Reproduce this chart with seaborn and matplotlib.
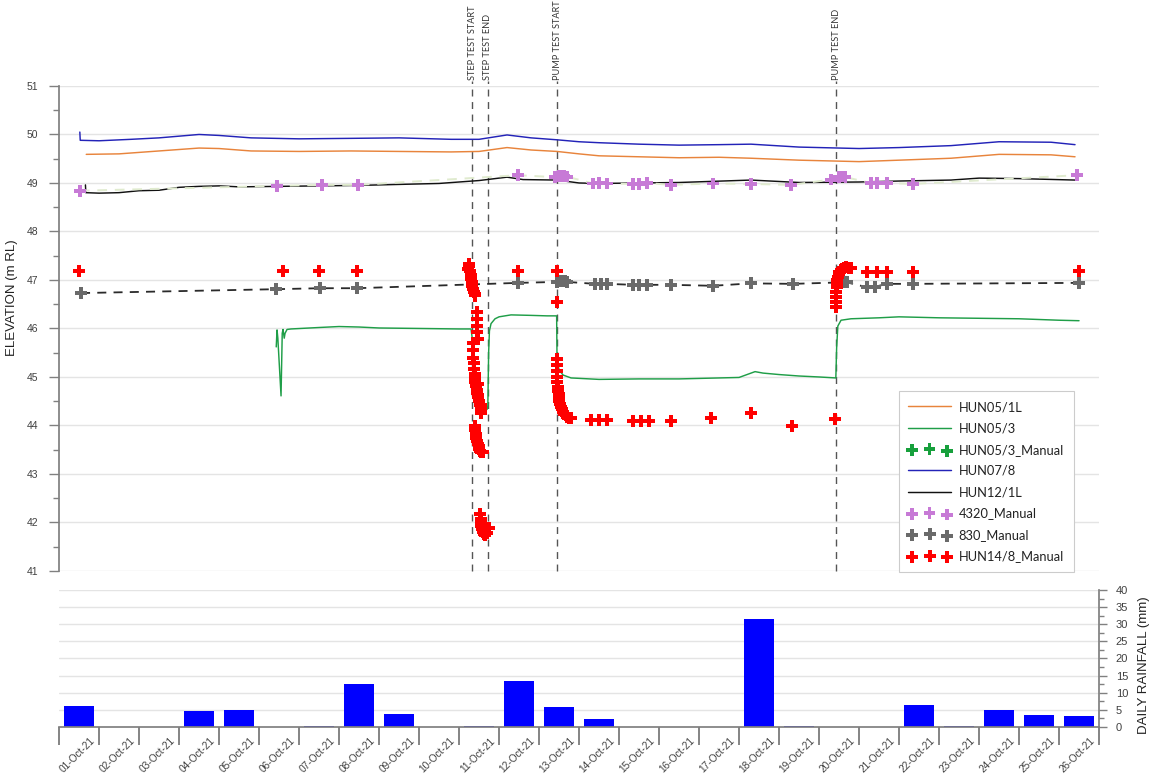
import matplotlib
matplotlib.use("Agg")
import matplotlib.pyplot as plt
import matplotlib.transforms as mtransforms
from matplotlib.ticker import MultipleLocator, FixedLocator, NullLocator
import seaborn as sns

# ---------------- data (time axis = days since 01-Oct-21 00:00) ----------------
hun05_1l_t = [0.68, 1.5, 2.5, 3.5, 4.0, 4.8, 6.0, 7.3, 8.5, 9.8, 10.5, 11.2, 11.8, 12.45,
              13.0, 13.5, 14.5, 15.5, 16.5, 17.3, 18.5, 20.0, 21.0, 22.3, 23.5, 24.8, 25.4]
hun05_1l_v = [49.59, 49.60, 49.66, 49.72, 49.71, 49.66, 49.65, 49.66, 49.65, 49.64, 49.65, 49.73, 49.68, 49.65,
              49.60, 49.56, 49.54, 49.52, 49.53, 49.51, 49.47, 49.44, 49.47, 49.51, 49.59, 49.58, 49.54]

hun07_8_t = [0.52, 0.53, 1.0, 1.8, 2.5, 3.5, 4.0, 4.8, 6.0, 7.3, 8.5, 9.8, 10.5, 11.2, 11.8, 12.45,
             13.0, 13.5, 14.5, 15.5, 16.5, 17.3, 18.5, 20.0, 21.0, 22.3, 23.5, 24.8, 25.4]
hun07_8_v = [50.05, 49.88, 49.87, 49.90, 49.93, 50.00, 49.98, 49.93, 49.91, 49.92, 49.93, 49.90, 49.90, 49.99, 49.93, 49.89,
             49.85, 49.83, 49.80, 49.78, 49.79, 49.80, 49.74, 49.71, 49.73, 49.77, 49.85, 49.84, 49.79]

hun12_1l_t = [0.66, 0.67, 1.0, 1.5, 2.0, 2.5, 3.0, 3.5, 4.0, 4.5, 5.5, 6.5, 7.5, 8.5, 9.5, 10.5, 11.2, 11.6,
              12.45, 13.0, 13.5, 15.5, 17.3, 18.5, 20.0, 21.0, 22.3, 23.0, 24.0, 25.4]
hun12_1l_v = [48.96, 48.80, 48.79, 48.80, 48.84, 48.85, 48.91, 48.93, 48.94, 48.92, 48.93, 48.94, 48.95, 48.97, 48.99,
              49.05, 49.12, 49.07, 49.06, 49.00, 48.99, 49.01, 49.06, 49.01, 49.02, 49.04, 49.06, 49.10, 49.09, 49.06]

hun05_3_t = [5.43, 5.45, 5.47, 5.55, 5.58, 5.60, 5.63, 5.65, 5.70, 5.8, 6.5, 7.0, 7.5, 8.0, 9.0, 10.0, 10.3,
             10.33, 10.36, 10.40, 10.45, 10.50, 10.55, 10.62, 10.70, 10.72, 10.74, 10.76, 10.80, 10.9, 11.0, 11.3,
             11.8, 12.2, 12.44, 12.45, 12.5, 12.6, 12.8, 13.5, 14.5, 15.5, 16.5, 17.0, 17.2, 17.4, 17.6, 18.0,
             18.5, 19.0, 19.42, 19.44, 19.47, 19.55, 19.8, 20.5, 21.0, 22.0, 23.0, 24.0, 25.0, 25.5]
hun05_3_v = [45.62, 45.97, 45.80, 44.61, 45.90, 45.98, 45.80, 45.90, 45.98, 45.99, 46.02, 46.04, 46.03, 46.01, 46.00,
             45.99, 45.99, 45.80, 45.50, 45.20, 44.95, 44.70, 44.50, 44.38, 44.33, 44.40, 45.50, 45.95, 46.10, 46.20,
             46.24, 46.28, 46.27, 46.26, 46.26, 45.35, 45.15, 45.04, 44.98, 44.95, 44.96, 44.96, 44.98, 44.99, 45.05,
             45.11, 45.08, 45.05, 45.02, 45.00, 44.98, 45.60, 46.05, 46.17, 46.20, 46.22, 46.24, 46.22, 46.21, 46.20,
             46.17, 46.16]

# ---------------- manual dips ----------------
hun05_3_manual_t = []
hun05_3_manual_v = []

m4320_t = [0.52, 5.45, 6.58, 7.48, 11.48, 12.40, 12.50, 12.55, 12.62, 12.70, 13.35, 13.50, 13.70, 14.35,
           14.50, 14.70, 15.30, 16.35, 17.30, 18.30, 19.30, 19.50, 19.58, 19.66, 20.30, 20.45, 20.70, 21.35, 25.45]
m4320_v = [48.84, 48.94, 48.96, 48.96, 49.16, 49.12, 49.14, 49.15, 49.14, 49.13, 48.99, 49.00, 48.99, 48.98,
           48.98, 49.00, 48.96, 48.99, 48.98, 48.96, 49.07, 49.12, 49.13, 49.12, 49.00, 49.00, 49.00, 48.98, 49.16]

m830_t = [0.55, 5.43, 6.53, 7.45, 11.48, 12.45, 12.55, 12.60, 12.65, 12.70, 13.40, 13.55, 13.70, 14.35,
          14.50, 14.70, 15.30, 16.35, 17.30, 18.35, 19.55, 19.62, 19.70, 20.20, 20.40, 20.70, 21.35, 25.50]
m830_v = [46.73, 46.81, 46.83, 46.83, 46.94, 46.96, 46.98, 46.98, 46.97, 46.96, 46.92, 46.92, 46.92, 46.90,
          46.90, 46.90, 46.90, 46.88, 46.93, 46.92, 46.95, 46.96, 46.95, 46.85, 46.86, 46.92, 46.92, 46.94]

hun14_8_t = [0.50, 5.60, 6.50, 7.45,
             # step test
             10.22, 10.24, 10.26, 10.28, 10.30, 10.31, 10.32, 10.33, 10.35, 10.37, 10.39, 10.41,
             10.45, 10.45, 10.46, 10.46, 10.47,
             10.34, 10.35, 10.36, 10.37, 10.38, 10.39, 10.40, 10.41, 10.42, 10.44, 10.46, 10.48, 10.50, 10.52, 10.54,
             10.47, 10.47, 10.56, 10.56,
             10.40, 10.41, 10.42, 10.43, 10.45, 10.47, 10.49, 10.51, 10.53, 10.56, 10.60,
             10.53, 10.54, 10.55, 10.56, 10.58, 10.60, 10.63, 10.66, 10.70, 10.74,
             11.48,
             # pump test
             12.45, 12.45,
             12.44, 12.45, 12.45, 12.46, 12.46, 12.47, 12.48, 12.49, 12.50, 12.51, 12.53, 12.55, 12.57, 12.60,
             12.63, 12.67, 12.71, 12.76, 12.80,
             13.30, 13.50, 13.70, 14.35, 14.55, 14.75, 15.30, 16.30, 17.30, 18.33, 19.40,
             # recovery
             19.42, 19.42, 19.43, 19.43, 19.44, 19.45, 19.46, 19.47, 19.49, 19.51, 19.54, 19.58, 19.63, 19.68,
             19.74, 19.80,
             20.20, 20.45, 20.70, 21.35, 25.50]
hun14_8_v = [47.19, 47.19, 47.19, 47.19,
             47.22, 47.32, 47.28, 47.18, 47.10, 47.02, 46.95, 46.88, 46.82, 46.76, 46.72, 46.68,
             46.34, 46.20, 46.06, 45.92, 45.78,
             45.70, 45.55, 45.40, 45.28, 45.17, 45.07, 44.98, 44.90, 44.82, 44.74, 44.66, 44.58, 44.50, 44.42, 44.35,
             44.85, 44.63, 44.42, 44.26,
             43.98, 43.90, 43.82, 43.75, 43.68, 43.62, 43.57, 43.52, 43.48, 43.45, 43.46,
             42.18, 42.08, 42.00, 41.93, 41.86, 41.80, 41.76, 41.74, 41.78, 41.88,
             47.19,
             47.19, 46.55,
             45.38, 45.25, 45.12, 45.00, 44.90, 44.80, 44.72, 44.64, 44.56, 44.50, 44.44, 44.38, 44.33, 44.28,
             44.24, 44.21, 44.18, 44.16, 44.15,
             44.11, 44.11, 44.11, 44.10, 44.10, 44.10, 44.10, 44.15, 44.26, 43.99, 44.13,
             46.45, 46.55, 46.65, 46.75, 46.85, 46.93, 47.00, 47.06, 47.12, 47.16, 47.20, 47.23, 47.25, 47.26,
             47.25, 47.24,
             47.17, 47.17, 47.17, 47.17, 47.19]

# ---------------- test events ----------------
event_t = [10.33, 10.72, 12.45, 19.43]
event_labels = ["STEP TEST START", "STEP TEST END", "PUMP TEST START", "PUMP TEST END"]

# ---------------- daily rainfall ----------------
rain_dates = ["01-Oct-21", "02-Oct-21", "03-Oct-21", "04-Oct-21", "05-Oct-21", "06-Oct-21", "07-Oct-21",
              "08-Oct-21", "09-Oct-21", "10-Oct-21", "11-Oct-21", "12-Oct-21", "13-Oct-21", "14-Oct-21",
              "15-Oct-21", "16-Oct-21", "17-Oct-21", "18-Oct-21", "19-Oct-21", "20-Oct-21", "21-Oct-21",
              "22-Oct-21", "23-Oct-21", "24-Oct-21", "25-Oct-21", "26-Oct-21"]
rain_mm = [6.0, 0.0, 0.0, 4.7, 5.0, 0.0, 0.4, 12.5, 3.7, 0.1, 0.4, 13.5, 5.9, 2.2,
           0.0, 0.0, 0.0, 31.5, 0.3, 0.0, 0.1, 6.3, 0.3, 5.0, 3.5, 3.3]

# ---------------- styling ----------------
sns.set_theme(style="white")
plt.rcParams['font.family'] = ['Liberation Sans', 'DejaVu Sans']
TICK_COL = "#404040"
SPINE_COL = "#808080"
GRID_COL = "#e4e4e4"
CAL = ['Lato', 'DejaVu Sans']

fig = plt.figure(figsize=(11.53, 7.78), dpi=100)
ax = fig.add_axes([0.0512, 0.2661, 0.9020, 0.6234])
ax2 = fig.add_axes([0.0512, 0.0656, 0.9020, 0.1761])

# ---- elevation panel ----
LW = 1.05
sns.lineplot(x=hun05_1l_t, y=hun05_1l_v, ax=ax, color="#e8843c", lw=LW, sort=False,
             estimator=None, label="HUN05/1L", legend=False)
sns.lineplot(x=hun05_3_t, y=hun05_3_v, ax=ax, color="#1f9e48", lw=LW, sort=False,
             estimator=None, label="HUN05/3", legend=False)
sns.lineplot(x=hun07_8_t, y=hun07_8_v, ax=ax, color="#2323b8", lw=LW, sort=False,
             estimator=None, label="HUN07/8", legend=False)
sns.lineplot(x=hun12_1l_t, y=hun12_1l_v, ax=ax, color="#111111", lw=LW, sort=False,
             estimator=None, label="HUN12/1L", legend=False)

# connecting lines of the manual dips
sns.lineplot(x=m4320_t, y=m4320_v, ax=ax, color="#e0ebcf", lw=1.4, sort=False,
             estimator=None, legend=False)
ax.lines[-1].set_dashes((5, 4))
sns.lineplot(x=m830_t, y=m830_v, ax=ax, color="#2a2a2a", lw=1.3, sort=False,
             estimator=None, legend=False)
ax.lines[-1].set_dashes((5, 4))

# event markers
for t, lab in zip(event_t, event_labels):
    ax.axvline(t, ymin=0, ymax=1.01, color="#555555", lw=1.0, dashes=(5, 4), clip_on=False, zorder=1)
    ax.text(t, 1.013, lab, transform=ax.get_xaxis_transform(), rotation=90, ha="center", va="bottom",
            fontsize=6.6, family=CAL, color="#333333")

mk = dict(marker="P", linewidth=0, edgecolor="none", legend=False)
# no HUN05/3 manual dips fall inside this window; the series keeps its legend entry
ax.scatter(hun05_3_manual_t, hun05_3_manual_v, color="#17a03c", s=70, marker="P", linewidths=0,
           label="HUN05/3_Manual")
sns.scatterplot(x=m4320_t, y=m4320_v, ax=ax, color="#c77ad6", s=70, label="4320_Manual", zorder=4, **mk)
sns.scatterplot(x=m830_t, y=m830_v, ax=ax, color="#6a6a6a", s=75, label="830_Manual", zorder=4, **mk)
sns.scatterplot(x=hun14_8_t, y=hun14_8_v, ax=ax, color="#ff0000", s=75, label="HUN14/8_Manual", zorder=5, **mk)

ax.set_xlim(0, 26)
ax.set_ylim(41, 51)
ax.yaxis.set_major_locator(MultipleLocator(1))
ax.yaxis.set_minor_locator(MultipleLocator(0.5))
ax.xaxis.set_major_locator(NullLocator())
ax.grid(axis="y", color=GRID_COL, lw=1.0)
ax.set_axisbelow(True)
for s in ["top", "right", "bottom"]:
    ax.spines[s].set_visible(False)
ax.spines["left"].set_color(SPINE_COL)
ax.tick_params(axis="y", which="major", direction="out", length=7, width=1, color=SPINE_COL,
               labelsize=7.5, labelcolor=TICK_COL, pad=8, left=True)
ax.tick_params(axis="y", which="minor", direction="out", length=4, width=1, color=SPINE_COL, left=True)
ax.set_xlabel("")
ax.set_ylabel("ELEVATION (m RL)", fontsize=9.5, color="#222222")
ax.yaxis.set_label_coords(-0.039, 0.563)

handles, labels = ax.get_legend_handles_labels()
order = ["HUN05/1L", "HUN05/3", "HUN05/3_Manual", "HUN07/8", "HUN12/1L",
         "4320_Manual", "830_Manual", "HUN14/8_Manual"]
hmap = dict(zip(labels, handles))
leg = ax.legend([hmap[o] for o in order], order, loc="lower left", bbox_to_anchor=(0.801, -0.015),
                frameon=True, fancybox=False, edgecolor="#cccccc", framealpha=1, scatterpoints=3,
                handlelength=3.3, handletextpad=0.6, labelspacing=0.72, borderpad=0.75,
                prop={"family": CAL, "size": 9.3})
leg.get_frame().set_linewidth(0.8)
for txt in leg.get_texts():
    txt.set_color("#222222")

# ---- rainfall panel ----
sns.barplot(x=rain_dates, y=rain_mm, ax=ax2, color="#0000ff", saturation=1, width=0.75,
            edgecolor="none", order=rain_dates)
ax2.set_xlim(-0.5, len(rain_dates) - 0.5)
ax2.set_ylim(0, 40)
ax2.yaxis.tick_right()
ax2.yaxis.set_label_position("right")
ax2.yaxis.set_major_locator(MultipleLocator(5))
ax2.yaxis.set_minor_locator(MultipleLocator(2.5))
ax2.grid(axis="y", color=GRID_COL, lw=1.0)
ax2.set_axisbelow(True)
ax2.spines["left"].set_visible(False)
ax2.spines["top"].set_visible(False)
ax2.spines["right"].set_color(SPINE_COL)
ax2.spines["bottom"].set_color(SPINE_COL)
ax2.tick_params(axis="y", which="major", direction="out", length=6, width=1, color=SPINE_COL,
                labelsize=8, labelcolor=TICK_COL, pad=6, right=True, left=False)
ax2.tick_params(axis="y", which="minor", direction="out", length=3.5, width=1, color=SPINE_COL,
                right=True, left=False)
ax2.set_ylabel("DAILY RAINFALL (mm)", fontsize=9.5, color="#222222")
ax2.yaxis.set_label_coords(1.0375, 0.45)

# day boundaries as long tick marks, date labels between them
ax2.xaxis.set_minor_locator(FixedLocator([i - 0.5 for i in range(len(rain_dates) + 1)]))
ax2.tick_params(axis="x", which="minor", direction="out", length=13, width=1.2, color="#707070", bottom=True)
ax2.tick_params(axis="x", which="major", length=0, pad=9, labelsize=7.3, labelcolor=TICK_COL)
ax2.set_xticks(range(len(rain_dates)))
ax2.set_xticklabels(rain_dates, rotation=45, ha="right", va="center", rotation_mode="anchor")
ax2.set_xlabel("")
shift = mtransforms.ScaledTranslation(14 / 100, 0, fig.dpi_scale_trans)
for lbl in ax2.get_xticklabels():
    lbl.set_transform(lbl.get_transform() + shift)

fig.savefig("out.png", dpi=100, facecolor="white")
